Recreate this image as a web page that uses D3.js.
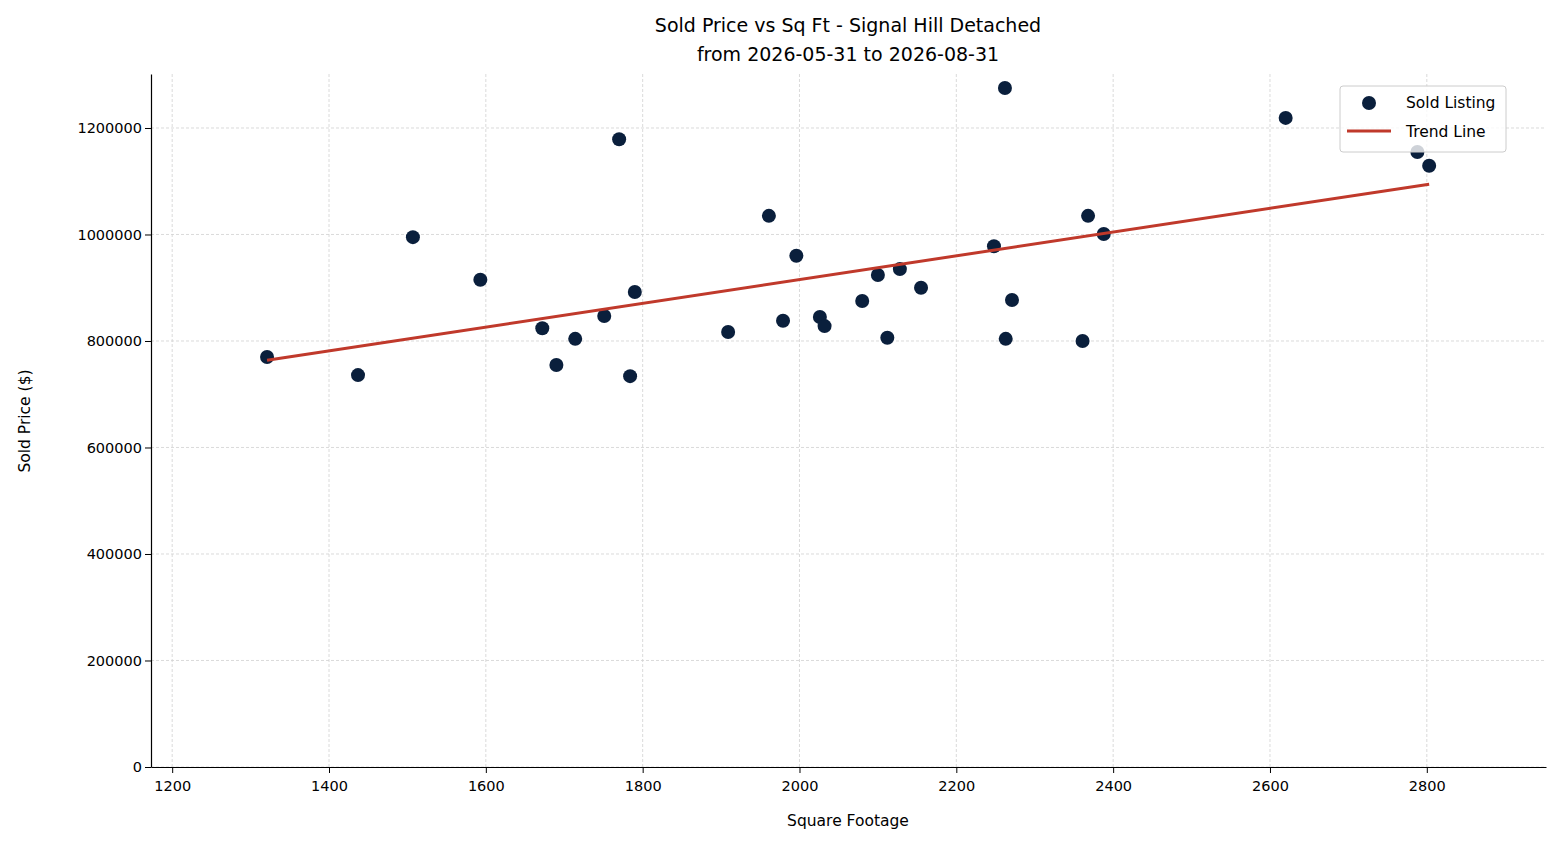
<!DOCTYPE html>
<html><head><meta charset="utf-8">
<script src="https://cdn.jsdelivr.net/npm/d3@7"></script>
<style>body{margin:0;background:#fff;font-family:"DejaVu Sans",sans-serif;}</style>
</head><body>
<svg id="chart" width="1560" height="845"></svg>
<script>
var sqft = [1321,1437,1507,1593,1672,1690,1714,1751,1770,1784,1790,1909,1961,1979,1996,2026,2032,2080,2100,2112,2128,2155,2248,2262,2263,2271,2361,2368,2388,2620,2788,2803];
var price = [770000,736000,995000,915000,824000,755000,804000,847000,1179000,734000,892000,817000,1035000,838000,960000,845000,828000,875000,924000,806000,935000,900000,978000,1275000,804000,877000,800000,1035000,1001000,1219000,1155000,1129000];
var xTicks = [1200,1400,1600,1800,2000,2200,2400,2600,2800];
var yTicks = [0,200000,400000,600000,800000,1000000,1200000];

(function () {
'use strict';
var svg = d3.select('#chart');
var PL = 151, PR = 1546, PT = 74, PB = 767;
var x = d3.scaleLinear().domain([1173, 2952]).range([PL, PR]);
var y = d3.scaleLinear().domain([0, 1301400]).range([PB, PT]);

// grid
xTicks.forEach(function(t){
    svg.append('line').attr('x1', x(t)).attr('x2', x(t)).attr('y1', PT).attr('y2', PB)
        .style('stroke', '#d0d0d0').style('stroke-width', 0.8).style('stroke-dasharray', '3,2');
});
yTicks.forEach(function(t){
    svg.append('line').attr('x1', PL).attr('x2', PR).attr('y1', y(t)).attr('y2', y(t))
        .style('stroke', '#d0d0d0').style('stroke-width', 0.8).style('stroke-dasharray', '3,2');
});

var xAxis = svg.append('g').attr('transform', 'translate(0,' + PB + ')')
    .call(d3.axisBottom(x).tickValues(xTicks).tickFormat(d3.format('d')).tickSizeOuter(0));
var yAxis = svg.append('g').attr('transform', 'translate(' + PL + ',0)')
    .call(d3.axisLeft(y).tickValues(yTicks).tickFormat(d3.format('d')).tickSizeOuter(0));
[xAxis, yAxis].forEach(function(g){
    g.attr('font-family', 'DejaVu Sans').attr('font-size', 14.5);
    g.selectAll('text').style('fill', '#000');
    g.selectAll('line').style('stroke', '#000');
    g.select('.domain').style('stroke', '#000').style('stroke-width', 1.2);
});
xAxis.selectAll('text').attr('dy', '1em');

// trend line (least squares)
var mx = d3.mean(sqft), my = d3.mean(price);
var sxy = d3.sum(sqft, function(v, i){ return (v - mx) * (price[i] - my); });
var sxx = d3.sum(sqft, function(v){ return (v - mx) * (v - mx); });
var slope = sxy / sxx, icpt = my - slope * mx;
var xr = d3.extent(sqft);

sqft.forEach(function(v, i){
    svg.append('circle').attr('cx', x(v)).attr('cy', y(price[i])).attr('r', 7).attr('fill', '#0a1f3c');
});
svg.append('line').attr('x1', x(xr[0])).attr('y1', y(icpt + slope * xr[0]))
    .attr('x2', x(xr[1])).attr('y2', y(icpt + slope * xr[1]))
    .style('stroke', '#c0392b').style('stroke-width', 3);

// titles
svg.append('text').attr('x', 848).attr('y', 32).attr('text-anchor', 'middle').style('font-size', '19px').text('Sold Price vs Sq Ft - Signal Hill Detached');
svg.append('text').attr('x', 848).attr('y', 61).attr('text-anchor', 'middle').style('font-size', '19px').text('from 2026-05-31 to 2026-08-31');
svg.append('text').attr('x', 848).attr('y', 826).attr('text-anchor', 'middle').style('font-size', '15.5px').text('Square Footage');
svg.append('text').attr('transform', 'translate(30,421) rotate(-90)').attr('text-anchor', 'middle').style('font-size', '15.5px').text('Sold Price ($)');

// legend
var lg = svg.append('g');
lg.append('rect').attr('x', 1340).attr('y', 86).attr('width', 166).attr('height', 66).attr('rx', 3)
    .style('fill', 'rgba(255,255,255,0.8)').style('stroke', '#ccc');
lg.append('circle').attr('cx', 1369).attr('cy', 103).attr('r', 7).attr('fill', '#0a1f3c');
lg.append('line').attr('x1', 1347).attr('x2', 1391).attr('y1', 131).attr('y2', 131).style('stroke', '#c0392b').style('stroke-width', 3);
lg.append('text').attr('x', 1406).attr('y', 108).style('font-size', '15.5px').text('Sold Listing');
lg.append('text').attr('x', 1406).attr('y', 137).style('font-size', '15.5px').text('Trend Line');
})();
</script>
</body></html>
